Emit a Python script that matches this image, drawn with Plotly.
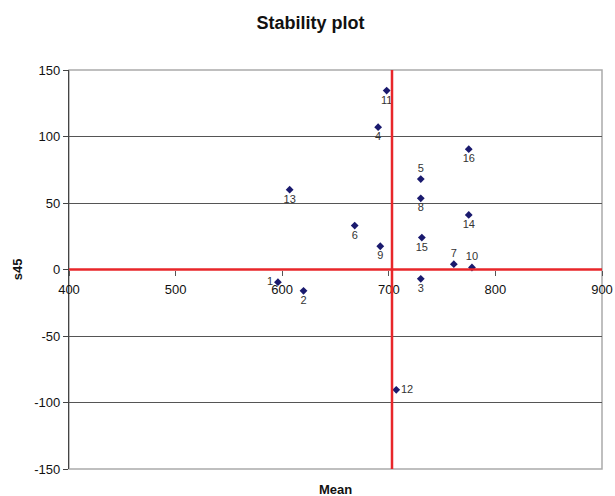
import plotly.graph_objects as go

labels = ["1", "2", "3", "4", "5", "6", "7", "8", "9", "10", "11", "12", "13", "14", "15", "16"]
mean = [596, 620, 730, 690, 730, 668, 761, 730, 692, 778, 698, 707, 607, 775, 731, 775]
s45 = [-9.5, -16, -7, 107, 68, 33, 4, 53.5, 17.5, 1.5, 134.5, -90.5, 60, 41, 24, 90.5]
label_pos = ["middle left", "bottom center", "bottom center", "bottom center", "top center",
             "bottom center", "top center", "bottom center", "bottom center", "top center",
             "bottom center", "middle right", "bottom center", "bottom center", "bottom center",
             "bottom center"]
grand_mean = 703
x_ticks = [400, 500, 600, 700, 800, 900]
y_ticks = [-150, -100, -50, 0, 50, 100, 150]
y_tick_text = ["-150", "-100", "-50", "0", "50", "100", "150"]

fig = go.Figure()
fig.add_trace(go.Scatter(
    x=mean, y=s45, mode="markers+text", text=labels, textposition=label_pos,
    marker=dict(symbol="diamond", size=6, color="#1a1a6e"),
    textfont=dict(family="Liberation Sans, Arial, sans-serif", size=11, color="#333333"),
    hoverinfo="skip", cliponaxis=False, showlegend=False,
))

red = "#e8262a"
fig.add_shape(type="line", xref="x", yref="y", x0=400, x1=900, y0=0, y1=0,
              line=dict(color=red, width=2.5), layer="above")
fig.add_shape(type="line", xref="x", yref="y", x0=grand_mean, x1=grand_mean, y0=-150, y1=150,
              line=dict(color=red, width=2.5), layer="above")
# plot-area border
fig.add_shape(type="rect", xref="paper", yref="paper", x0=0, x1=1, y0=0, y1=1,
              line=dict(color="#aaaaaa", width=1.5), layer="below")

font = dict(family="Liberation Sans, Arial, sans-serif", size=13, color="#111111")
fig.update_layout(
    width=615, height=496,
    margin=dict(l=69, r=13, t=70, b=27, autoexpand=False),
    paper_bgcolor="white", plot_bgcolor="white",
    font=font,
    title=dict(text="<b>Stability plot</b>", x=0.505, xanchor="center", y=0.955, yanchor="middle",
               font=dict(family="Liberation Sans, Arial, sans-serif", size=18, color="#111111")),
    xaxis=dict(range=[400, 900], tickvals=x_ticks, showgrid=False, zeroline=False,
               anchor="free", position=0.5, showline=False, automargin=False,
               ticks="outside", ticklen=5, tickcolor="#555555", tickfont=font,
               ticklabelstandoff=3),
    yaxis=dict(range=[-150, 150], tickvals=y_ticks, ticktext=y_tick_text, automargin=False,
               showgrid=True, gridcolor="#555555", gridwidth=1,
               zeroline=False, showline=True, linecolor="#444444", linewidth=1.2,
               ticks="outside", ticklen=5, tickcolor="#444444", tickfont=font),
    annotations=[
        dict(text="<b>Mean</b>", xref="paper", yref="paper", x=0.5, y=-0.052,
             xanchor="center", yanchor="middle", showarrow=False,
             font=dict(family="Liberation Sans, Arial, sans-serif", size=13, color="#111111")),
        dict(text="<b>s45</b>", xref="paper", yref="paper", x=-0.096, y=0.5,
             xanchor="center", yanchor="middle", showarrow=False, textangle=-90,
             font=dict(family="Liberation Sans, Arial, sans-serif", size=13, color="#111111")),
    ],
)

fig.write_html("out.html", config={"displayModeBar": False},
               post_script="document.body.style.margin='0';")
